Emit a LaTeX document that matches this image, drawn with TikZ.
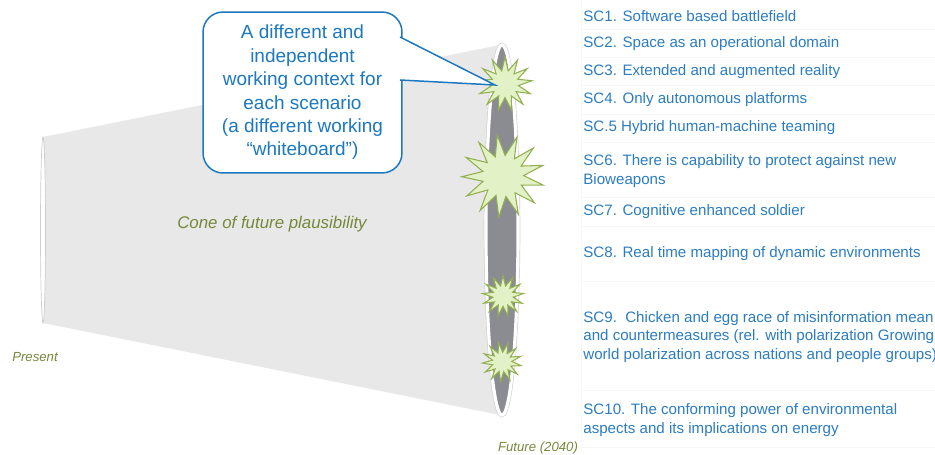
\documentclass[tikz,border=0pt]{standalone}
\usepackage{fontspec}
\setmainfont{Liberation Sans}
\usetikzlibrary{shapes.geometric}

\definecolor{scblue}{HTML}{2B7CC1}
\definecolor{callblue}{HTML}{1C78C0}
\definecolor{conegreen}{HTML}{76883A}
\definecolor{conegray}{HTML}{E8E8E8}
\definecolor{endgray}{HTML}{8B8B92}
\definecolor{burstfill}{HTML}{E3F2C6}
\definecolor{burstline}{HTML}{92B050}

\begin{document}
\begin{tikzpicture}[
        x=0.02cm, y=-0.02cm,
        scenario/.style={anchor=west, align=left, text=scblue, inner sep=0pt, font=\fontsize{8.6}{10.6}\selectfont},
        burst/.style={star, star points=13, star point ratio=2.0, inner sep=0pt, fill=burstfill, draw=burstline, line width=0.6pt},
        callbox/.style={rectangle, rounded corners=0.4cm, draw=callblue, line width=0.85pt, fill=white, text=callblue, align=center, minimum width=3.98cm, minimum height=3.22cm, font=\fontsize{10.8}{13.3}\selectfont},
        timelabel/.style={text=conegreen, inner sep=0pt, font=\fontsize{7.5}{9}\selectfont\itshape},
        rowline/.style={draw=gray!6, line width=0.4pt}
    ]
        \useasboundingbox (0,0) rectangle (935,455);

        % Table rules
        \foreach \y in {29,57,85,114,142,197,226,281,390,447}
            \draw[rowline] (581,\y) -- (935,\y);
        \draw[rowline] (581,0) -- (581,447);

        % Cone
        \fill[conegray] (43,137) -- (500,45) -- (500,415) -- (43,323) -- cycle;
        \draw[gray!40, fill=white, line width=0.4pt] (43,230) ellipse [x radius=2.5, y radius=93];
        \draw[gray!35, line width=2.6pt] (502,230) ellipse [x radius=16, y radius=185];
        \draw[white, fill=endgray, line width=1.8pt] (502,230) ellipse [x radius=16, y radius=185];

        % Scenario bursts
        \node[burst, minimum size=1.08cm] (burst1) at (505,84) {};
        \node[burst, minimum size=1.65cm, rotate=8] (burst2) at (503,176) {};
        \node[burst, minimum size=0.82cm] (burst3) at (503,296) {};
        \node[burst, minimum size=0.78cm, rotate=10] (burst4) at (502,362) {};

        % Labels
        \node[text=conegreen, font=\fontsize{9.6}{11}\selectfont\itshape] (conelabel) at (272,224) {Cone of future plausibility};
        \node[timelabel] (present) at (35,357) {Present};
        \node[timelabel] (future) at (538,448) {Future (2040)};

        % Callout
        \node[callbox] (callout) at (302.5,92.5) {A different and\\independent\\working context for\\each scenario\\(a different working\\“whiteboard”)};
        \coordinate (pa) at (400,37);
        \coordinate (pb) at (400,80);
        \coordinate (tip) at (495,85);
        \fill[white] (pa) -- (tip) -- (pb) -- cycle;
        \draw[callblue, line width=0.85pt] (pa) -- (tip) -- (pb);

        % Scenario list
        \node[scenario] (sc1) at (583,16) {SC1. Software based battlefield};
        \node[scenario] (sc2) at (583,44) {SC2. Space as an operational domain};
        \node[scenario] (sc3) at (583,72) {SC3. Extended and augmented reality};
        \node[scenario] (sc4) at (583,100) {SC4. Only autonomous platforms};
        \node[scenario] (sc5) at (583,128) {SC.5 Hybrid human-machine teaming};
        \node[scenario] (sc6) at (583,171) {SC6. There is capability to protect against new\\Bioweapons};
        \node[scenario] (sc7) at (583,212) {SC7. Cognitive enhanced soldier};
        \node[scenario] (sc8) at (583,254) {SC8. Real time mapping of dynamic environments};
        \node[scenario] (sc9) at (583,337) {SC9.\ \ Chicken and egg race of misinformation mean\\and countermeasures (rel. with polarization Growing\\world polarization across nations and people groups)};
        \node[scenario] (sc10) at (583,420) {SC10. The conforming power of environmental\\aspects and its implications on energy};

    \end{tikzpicture}
\end{document}
